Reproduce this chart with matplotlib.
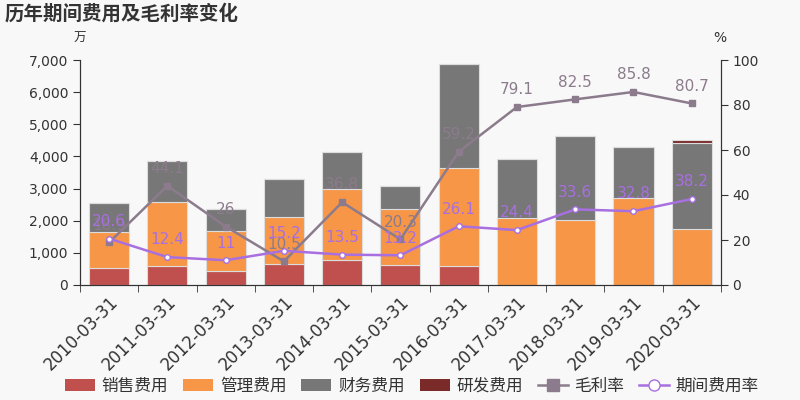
import numpy as np
import matplotlib.pyplot as plt
from matplotlib.lines import Line2D
from matplotlib.patches import Patch

plt.rcParams['font.family'] = ['DejaVu Sans', 'Noto Sans CJK SC']

# data
dates = ['2010-03-31', '2011-03-31', '2012-03-31', '2013-03-31', '2014-03-31',
         '2015-03-31', '2016-03-31', '2017-03-31', '2018-03-31', '2019-03-31',
         '2020-03-31']
sales = [540, 600, 450, 640, 790, 620, 600, 0, 0, 0, 0]
admin = [1110, 1990, 1230, 1480, 2200, 1755, 3030, 2075, 2020, 2715, 1730]
finance = [910, 1280, 670, 1180, 1150, 705, 3235, 1845, 2625, 1565, 2700]
rnd = [0, 0, 0, 0, 0, 0, 0, 0, 0, 0, 90]
gross_margin = [18.9, 44.1, 26, 10.5, 36.8, 20.3, 59.2, 79.1, 82.5, 85.8, 80.7]
expense_rate = [20.6, 12.4, 11, 15.2, 13.5, 13.2, 26.1, 24.4, 33.6, 32.8, 38.2]

c_sales = '#c0504d'
c_admin = '#f79646'
c_fin = '#777777'
c_rnd = '#7b2a2a'
c_gm = '#8c7b8c'
c_er = '#a86fe0'
bg = '#f8f8f8'
cjk = ['Noto Sans CJK SC', 'DejaVu Sans']

fig = plt.figure(figsize=(8, 4), dpi=100, facecolor=bg)
ax = fig.add_axes([0.1, 0.2875, 0.801, 0.5625], facecolor=bg)
x = np.arange(len(dates))
w = 0.69
edge = dict(edgecolor='#dddddd', linewidth=0.8)

b1 = np.array(sales)
b2 = b1 + np.array(admin)
b3 = b2 + np.array(finance)
ax.bar(x, sales, w, color=c_sales, **edge)
ax.bar(x, admin, w, bottom=b1, color=c_admin, **edge)
ax.bar(x, finance, w, bottom=b2, color=c_fin, **edge)
ax.bar(x, rnd, w, bottom=b3, color=c_rnd, **edge)

ax.set_xlim(-0.5, len(dates) - 0.5)
ax.set_ylim(0, 7000)
ax.set_yticks(range(0, 7001, 1000))
ax.set_yticklabels([f'{v:,}' for v in range(0, 7001, 1000)])
ax.set_xticks(x)
ax.set_xticklabels(dates, rotation=45, ha='right', rotation_mode='anchor', fontsize=12)
ax.tick_params(axis='x', length=0, pad=6, colors='#333333')
ax.set_xticks(np.arange(-0.5, len(dates)), minor=True)
ax.tick_params(axis='x', which='minor', length=5, color='#333333')
ax.tick_params(axis='y', colors='#333333', labelsize=10, length=5)
ax.spines['top'].set_visible(False)
for s in ['left', 'bottom', 'right']:
    ax.spines[s].set_color('#333333')

ax2 = ax.twinx()
ax2.set_ylim(0, 100)
ax2.set_yticks(range(0, 101, 20))
ax2.tick_params(axis='y', colors='#333333', labelsize=10, length=5)
ax2.spines['top'].set_visible(False)
for s in ['left', 'bottom', 'right']:
    ax2.spines[s].set_color('#333333')

ax2.plot(x, gross_margin, color=c_gm, lw=1.8, marker='s', ms=4, zorder=3)
ax2.plot(x, expense_rate, color=c_er, lw=1.8, marker='o', ms=4,
         mfc='white', mec=c_er, zorder=4)
for xi, v in zip(x, gross_margin):
    ax2.annotate(f'{v:g}', (xi, v), xytext=(0, 7), textcoords='offset points',
                 ha='center', va='bottom', color=c_gm, fontsize=11, zorder=5)
for xi, v in zip(x, expense_rate):
    ax2.annotate(f'{v:g}', (xi, v), xytext=(0, 7), textcoords='offset points',
                 ha='center', va='bottom', color=c_er, fontsize=11, zorder=6)

fig.text(0.006, 0.965, '历年期间费用及毛利率变化', fontsize=14, fontweight='bold',
         color='#333333', va='center', family=cjk)
fig.text(0.1, 0.905, '万', fontsize=9, color='#333333', ha='center', va='center',
         family=cjk)
fig.text(0.9, 0.905, '%', fontsize=10, color='#333333', ha='center', va='center')

handles = [
    Patch(facecolor=c_sales, label='销售费用'),
    Patch(facecolor=c_admin, label='管理费用'),
    Patch(facecolor=c_fin, label='财务费用'),
    Patch(facecolor=c_rnd, label='研发费用'),
    Line2D([], [], color=c_gm, marker='s', ms=8, lw=1.8, label='毛利率'),
    Line2D([], [], color=c_er, marker='o', ms=8, mfc='white', lw=1.8, label='期间费用率'),
]
fig.legend(handles=handles, loc='center', bbox_to_anchor=(0.515, 0.035), ncol=6,
           frameon=False, handlelength=1.8, handletextpad=0.4,
           columnspacing=0.9, labelcolor='#333333',
           prop={'family': cjk, 'size': 12})

fig.savefig('out.png', dpi=100, facecolor=bg)
